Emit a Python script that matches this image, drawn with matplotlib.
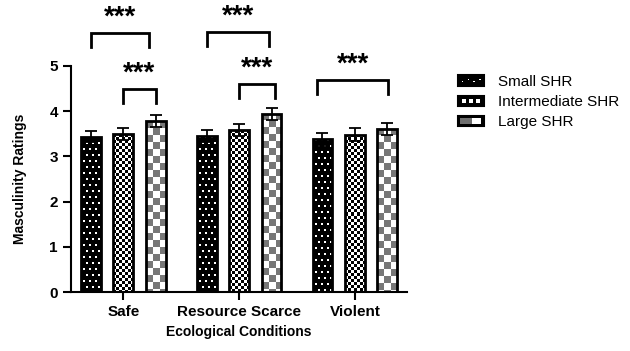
import numpy as np
import matplotlib.pyplot as plt
from matplotlib.patches import Rectangle
from matplotlib.legend_handler import HandlerBase

plt.rcParams['font.family'] = ['Liberation Sans', 'DejaVu Sans']

# data
conditions = ["Safe", "Resource Scarce", "Violent"]
series = ["Small SHR", "Intermediate SHR", "Large SHR"]
means = {
    "Small SHR": [3.44, 3.45, 3.38],
    "Intermediate SHR": [3.49, 3.58, 3.48],
    "Large SHR": [3.78, 3.94, 3.61],
}
errors = {
    "Small SHR": [0.13, 0.13, 0.14],
    "Intermediate SHR": [0.13, 0.13, 0.14],
    "Large SHR": [0.14, 0.14, 0.13],
}
# significance brackets: (group, x_left offset, x_right offset, height, label)
brackets = [
    (0, -0.28, 0.22, 5.73, "***"),
    (0, 0.0, 0.28, 4.49, "***"),
    (1, -0.28, 0.26, 5.75, "***"),
    (1, 0.0, 0.31, 4.60, "***"),
    (2, -0.33, 0.29, 4.69, "***"),
]

fig = plt.figure(figsize=(6.3, 3.51), dpi=100)
ax = fig.add_axes([0.113, 0.168, 0.533, 0.644])
ax.set_xlim(-0.45, 2.45)
ax.set_ylim(0, 5)

width = 0.17
offsets = [-0.28, 0.0, 0.28]


def texture(kind, h, w):
    img = np.ones((h, w, 3))
    yy, xx = np.mgrid[0:h, 0:w]
    if kind == 0:
        img[:] = 0.0
        stag = (yy // 6) % 2 * 3
        dots = ((yy % 6) < 2) & (((xx + stag) % 6) >= 2) & (((xx + stag) % 6) < 4)
        img[dots] = 1.0
    elif kind == 1:
        c = ((yy // 3) + (xx // 3)) % 2 == 0
        img[c] = 0.0
    else:
        c = ((yy // 7) + (xx // 7)) % 2 == 0
        img[c] = 0.47
    return img


x = np.arange(len(conditions))
for k, s in enumerate(series):
    xs = x + offsets[k]
    bars = ax.bar(xs, means[s], width, facecolor='none', edgecolor='black',
                  linewidth=2, zorder=3)
    for b in bars:
        x0, y0 = b.get_x(), b.get_y()
        x1, y1 = x0 + b.get_width(), y0 + b.get_height()
        p0 = ax.transData.transform((x0, y0))
        p1 = ax.transData.transform((x1, y1))
        wpx = max(int(round(p1[0] - p0[0])), 1)
        hpx = max(int(round(p1[1] - p0[1])), 1)
        im = ax.imshow(texture(k, hpx, wpx), extent=(x0, x1, y0, y1),
                       origin='upper', interpolation='nearest', aspect='auto',
                       zorder=2)
        im.set_clip_path(b)
    ax.errorbar(xs, means[s], yerr=errors[s], fmt='none', ecolor='black',
                elinewidth=1.3, capsize=4, capthick=1.3, zorder=4)

ax.set_xlim(-0.45, 2.45)
ax.set_ylim(0, 5)

for g, xl, xr, h, lab in brackets:
    ax.plot([g + xl, g + xl, g + xr, g + xr], [h - 0.3, h, h, h - 0.3],
            color='black', lw=2, clip_on=False, solid_joinstyle='miter')
    ax.text(g + (xl + xr) / 2, h + 0.06, lab, ha='center', va='bottom',
            fontsize=20, fontweight='bold', clip_on=False)

for sp in ['top', 'right']:
    ax.spines[sp].set_visible(False)
for sp in ['left', 'bottom']:
    ax.spines[sp].set_linewidth(1.5)

ax.set_xticks(x)
ax.set_xticklabels(conditions, fontsize=11, fontweight='bold')
ax.set_yticks(range(6))
ax.set_yticklabels([str(i) for i in range(6)], fontsize=11, fontweight='bold')
ax.tick_params(axis='both', width=1.5, length=6)
ax.set_ylabel("Masculinity Ratings", fontsize=10, fontweight='bold', labelpad=16)
ax.set_xlabel("Ecological Conditions", fontsize=10, fontweight='bold', labelpad=4)


class SwatchHandler(HandlerBase):
    def __init__(self, kind):
        super().__init__()
        self.kind = kind

    def create_artists(self, legend, orig_handle, xdescent, ydescent,
                       width, height, fontsize, trans):
        arts = [Rectangle((-xdescent, -ydescent), width, height,
                          facecolor='black', edgecolor='black', lw=1.5,
                          transform=trans)]
        if self.kind == 0:
            for i in range(4):
                arts.append(Rectangle((-xdescent + width * (0.15 + 0.22 * i),
                                       -ydescent + height * (0.35 + 0.2 * (i % 2))),
                                      1.2, 1.2, facecolor='white', lw=0,
                                      transform=trans))
        elif self.kind == 1:
            for i in range(3):
                arts.append(Rectangle((-xdescent + width * (0.14 + 0.27 * i),
                                       -ydescent + height * 0.3),
                                      width * 0.18, height * 0.4,
                                      facecolor='white', lw=0, transform=trans))
        else:
            arts.append(Rectangle((-xdescent + width * 0.1, -ydescent + height * 0.2),
                                  width * 0.45, height * 0.6,
                                  facecolor='#6e6e6e', lw=0, transform=trans))
            arts.append(Rectangle((-xdescent + width * 0.55, -ydescent + height * 0.2),
                                  width * 0.35, height * 0.6,
                                  facecolor='white', lw=0, transform=trans))
        return arts


handles = [Rectangle((0, 0), 1, 1) for _ in series]
handler_map = {h: SwatchHandler(i) for i, h in enumerate(handles)}
fig.legend(handles, series, handler_map=handler_map, loc='upper left',
           bbox_to_anchor=(0.705, 0.825), frameon=False, fontsize=11,
           handlelength=1.7, handleheight=0.7, handletextpad=0.95,
           labelspacing=0.4)

fig.savefig("out.png", dpi=100)
